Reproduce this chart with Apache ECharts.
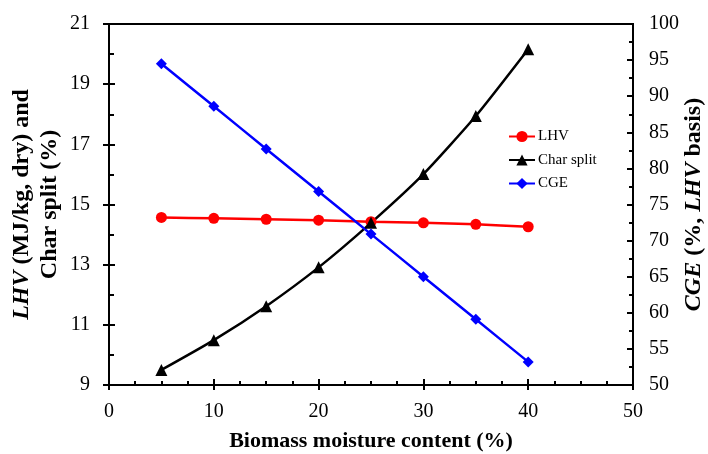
<!DOCTYPE html>
<html>
<head>
<meta charset="utf-8">
<script src="https://cdn.jsdelivr.net/npm/echarts@6/dist/echarts.min.js"></script>
<style>
html,body{margin:0;padding:0;background:#fff;}
#chart{width:708px;height:454px;}
</style>
</head>
<body>
<div id="chart"></div>
<script>
const moisture = [5, 10, 15, 20, 25, 30, 35, 40];
const lhv = [14.57, 14.54, 14.51, 14.48, 14.43, 14.39, 14.34, 14.26];
const charSplit = [9.50, 10.49, 11.62, 12.91, 14.39, 16.01, 17.94, 20.16];
const cge = [94.5, 88.6, 82.7, 76.8, 70.9, 65.0, 59.1, 53.2];
const seriesNames = ['LHV', 'Char split', 'CGE'];

const FONT = 'Liberation Serif';
const gridRect = {left: 109, right: 75, top: 24, bottom: 69, outerBoundsMode: 'none', containLabel: false};
const axisLine = {show: true, onZero: false, lineStyle: {color: '#000', width: 2}};
const tickStyle = {color: '#000', width: 2};
const labelStyle = {color: '#000', fontFamily: FONT, fontSize: 20};

const chart = echarts.init(document.getElementById('chart'), null, {renderer: 'canvas'});
chart.setOption({
  backgroundColor: '#fff',
  animation: false,
  grid: [
    Object.assign({show: true, borderColor: '#000', borderWidth: 2, backgroundColor: 'transparent'}, gridRect),
    Object.assign({show: false}, gridRect)
  ],
  legend: {
    orient: 'vertical',
    left: 508,
    top: 129,
    padding: 0,
    itemWidth: 26,
    itemHeight: 14,
    itemGap: 8.5,
    data: seriesNames,
    textStyle: {fontFamily: FONT, fontSize: 15, color: '#000', padding: [0, 0, 0, -2]}
  },
  xAxis: [
    {
      type: 'value', gridIndex: 0, min: 0, max: 50, interval: 10,
      name: 'Biomass moisture content (%)',
      nameLocation: 'middle', nameGap: 45, nameMoveOverlap: false,
      nameTextStyle: {fontFamily: FONT, fontSize: 22, fontWeight: 'bold', color: '#000'},
      axisLine: axisLine,
      axisTick: {show: true, inside: true, length: 6, lineStyle: tickStyle},
      minorTick: {show: true, splitNumber: 4, length: 4, lineStyle: tickStyle},
      axisLabel: Object.assign({margin: 17}, labelStyle),
      splitLine: {show: false}
    },
    {
      type: 'value', gridIndex: 1, min: 0, max: 50, interval: 10,
      axisLine: {show: false},
      axisTick: {show: true, inside: false, length: 5, lineStyle: tickStyle},
      axisLabel: {show: false},
      splitLine: {show: false}
    }
  ],
  yAxis: [
    {
      type: 'value', gridIndex: 0, position: 'left', min: 9, max: 21, interval: 2,
      name: '{i|LHV} {b|(MJ/kg, dry) and}\n{b|Char split (%)}',
      nameLocation: 'middle', nameRotate: 90, nameGap: 45, nameMoveOverlap: false,
      nameTextStyle: {
        fontFamily: FONT, fontSize: 24, color: '#000', lineHeight: 28,
        rich: {
          i: {fontFamily: FONT, fontSize: 24, fontWeight: 'bold', fontStyle: 'italic', color: '#000', lineHeight: 28},
          b: {fontFamily: FONT, fontSize: 24, fontWeight: 'bold', color: '#000', lineHeight: 28}
        }
      },
      axisLine: axisLine,
      axisTick: {show: true, inside: true, length: 6, lineStyle: tickStyle},
      minorTick: {show: true, splitNumber: 2, length: 5, lineStyle: tickStyle},
      axisLabel: Object.assign({margin: 19}, labelStyle),
      splitLine: {show: false}
    },
    {
      type: 'value', gridIndex: 0, position: 'right', min: 50, max: 100, interval: 5,
      name: '{i|CGE} {b|(%,} {i|LHV} {b|basis)}',
      nameLocation: 'middle', nameRotate: 90, nameGap: 49, nameMoveOverlap: false,
      nameTextStyle: {
        fontFamily: FONT, fontSize: 24, color: '#000',
        rich: {
          i: {fontFamily: FONT, fontSize: 24, fontWeight: 'bold', fontStyle: 'italic', color: '#000'},
          b: {fontFamily: FONT, fontSize: 24, fontWeight: 'bold', color: '#000'}
        }
      },
      axisLine: axisLine,
      axisTick: {show: true, inside: true, length: 6, lineStyle: tickStyle},
      minorTick: {show: true, splitNumber: 2, length: 4, lineStyle: tickStyle},
      axisLabel: Object.assign({margin: 16}, labelStyle),
      splitLine: {show: false}
    },
    {
      type: 'value', gridIndex: 1, position: 'left', min: 9, max: 21, interval: 2,
      axisLine: {show: false},
      axisTick: {show: true, inside: false, length: 6, lineStyle: tickStyle},
      axisLabel: {show: false},
      splitLine: {show: false}
    }
  ],
  series: [
    {
      name: seriesNames[0], type: 'line', xAxisIndex: 0, yAxisIndex: 0,
      data: moisture.map((x, i) => [x, lhv[i]]),
      symbol: 'circle', symbolSize: 11, smooth: 0.2,
      itemStyle: {color: '#FF0000'},
      lineStyle: {color: '#FF0000', width: 2.5}
    },
    {
      name: seriesNames[1], type: 'line', xAxisIndex: 0, yAxisIndex: 0,
      data: moisture.map((x, i) => [x, charSplit[i]]),
      symbol: 'triangle', symbolSize: 12, smooth: 0.2,
      itemStyle: {color: '#000000'},
      lineStyle: {color: '#000000', width: 2.5}
    },
    {
      name: seriesNames[2], type: 'line', xAxisIndex: 0, yAxisIndex: 1,
      data: moisture.map((x, i) => [x, cge[i]]),
      symbol: 'diamond', symbolSize: 11, smooth: 0.2,
      itemStyle: {color: '#0000FF'},
      lineStyle: {color: '#0000FF', width: 2.5}
    }
  ]
});
</script>
</body>
</html>
